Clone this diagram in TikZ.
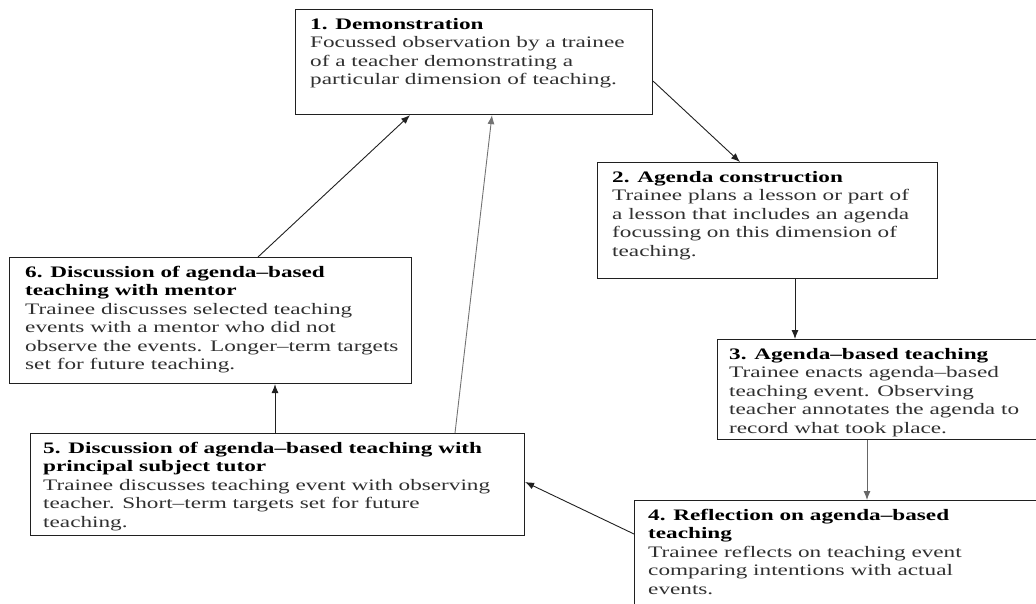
\documentclass[tikz,border=0pt]{standalone}
\usepackage{fontspec}
\setmainfont{Liberation Serif}[FakeStretch=1.45]
\usetikzlibrary{arrows.meta}
\definecolor{bodytext}{HTML}{303030}
\definecolor{edge}{HTML}{202020}
\begin{document}
\begin{tikzpicture}[x=1pt,y=-1pt,
  stagebox/.style={draw=edge, line width=1.1pt, anchor=north west, inner sep=0pt},
  stagetext/.style={anchor=north west, inner sep=0pt, align=left, text=bodytext,
    font=\fontsize{16}{18.5}\selectfont},
  flow/.style={draw=edge, line width=0.9pt, -{Latex[length=9pt,width=7pt]}},
  faintflow/.style={flow, draw=black!55}]
\useasboundingbox (0,0) rectangle (1036,603);
\clip (0,0) rectangle (1036,603);

% stage boxes
\node[stagebox, minimum width=357pt, minimum height=105pt] (b1) at (295,9) {};
\node[stagebox, minimum width=340pt, minimum height=116pt] (b2) at (597,162) {};
\node[stagebox, minimum width=330pt, minimum height=100pt] (b3) at (717,339) {};
\node[stagebox, minimum width=420pt, minimum height=120pt] (b4) at (634,500) {};
\node[stagebox, minimum width=494pt, minimum height=102pt] (b5) at (30,433) {};
\node[stagebox, minimum width=402pt, minimum height=126pt] (b6) at (9,257) {};

% stage texts
\node[stagetext] (t1) at ([shift={(15,9)}]b1.north west)
  {\textbf{\color{black}1. Demonstration}\\
   Focussed observation by a trainee\\
   of a teacher demonstrating a\\
   particular dimension of teaching.};
\node[stagetext] (t2) at ([shift={(15,9)}]b2.north west)
  {\textbf{\color{black}2. Agenda construction}\\
   Trainee plans a lesson or part of\\
   a lesson that includes an agenda\\
   focussing on this dimension of\\
   teaching.};
\node[stagetext] (t3) at ([shift={(12,9)}]b3.north west)
  {\textbf{\color{black}3. Agenda--based teaching}\\
   Trainee enacts agenda--based\\
   teaching event. Observing\\
   teacher annotates the agenda to\\
   record what took place.};
\node[stagetext] (t4) at ([shift={(14,9)}]b4.north west)
  {\textbf{\color{black}4. Reflection on agenda--based}\\
   \textbf{\color{black}teaching}\\
   Trainee reflects on teaching event\\
   comparing intentions with actual\\
   events.};
\node[stagetext] (t5) at ([shift={(13,9)}]b5.north west)
  {\textbf{\color{black}5. Discussion of agenda--based teaching with}\\
   \textbf{\color{black}principal subject tutor}\\
   Trainee discusses teaching event with observing\\
   teacher. Short--term targets set for future\\
   teaching.};
\node[stagetext] (t6) at ([shift={(16,9)}]b6.north west)
  {\textbf{\color{black}6. Discussion of agenda--based}\\
   \textbf{\color{black}teaching with mentor}\\
   Trainee discusses selected teaching\\
   events with a mentor who did not\\
   observe the events. Longer--term targets\\
   set for future teaching.};

% cycle connectors
\draw[flow] ([yshift=34pt]b1.south east) -- ([xshift=143pt]b2.north west);
\draw[flow] ([xshift=198pt]b2.south west) -- ([xshift=78pt]b3.north west);
\draw[flow, draw=black!60] ([xshift=150pt]b3.south west) -- ([xshift=233pt]b4.north west);
\draw[flow] ([yshift=-34pt]b4.north west) -- ([yshift=-49pt]b5.north east);
\draw[flow] ([xshift=245pt]b5.north west) -- ([xshift=266pt]b6.south west);
\draw[flow] ([xshift=249pt]b6.north west) -- ([xshift=115pt]b1.south west);
\draw[faintflow] ([xshift=425pt]b5.north west) -- ([xshift=197pt]b1.south west);
\end{tikzpicture}
\end{document}
